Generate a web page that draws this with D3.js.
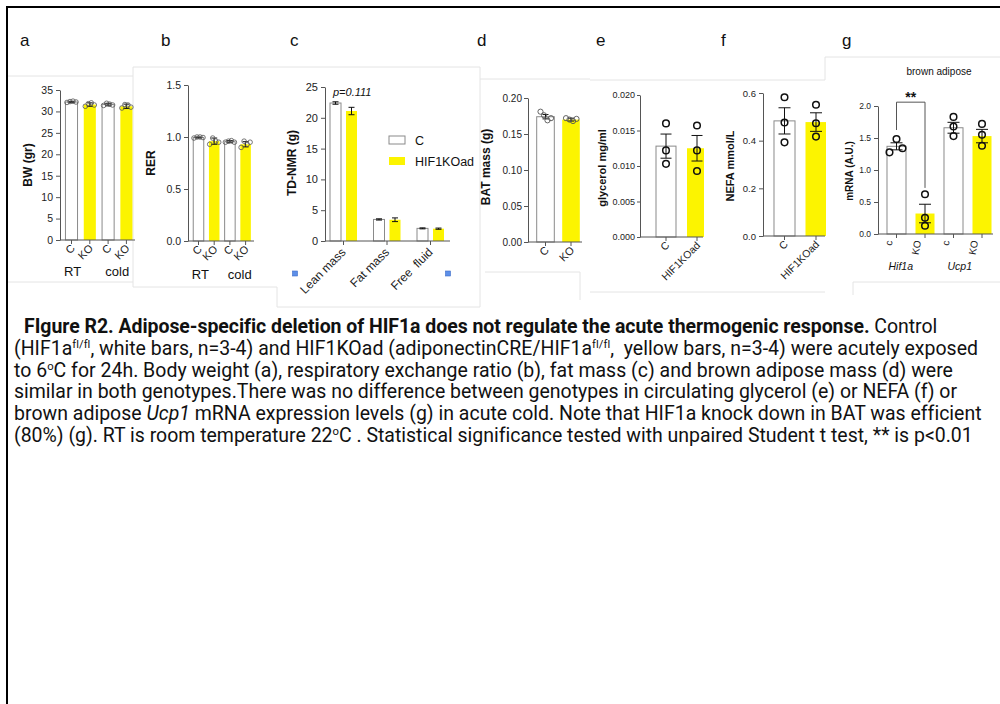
<!DOCTYPE html>
<html>
<head>
<meta charset="utf-8">
<script src="https://cdn.jsdelivr.net/npm/d3@7"></script>
<style>
  body { margin: 0; background: #fff; }
  text { white-space: pre; }
</style>
</head>
<body>
<script>
'use strict';

// ---- data ----
// a: body weight
var bwLabels = ["C", "KO", "C", "KO"];
var bwGroups = ["RT", "cold"];
var bwMeans = [32.2, 31.6, 31.6, 31.2];
var bwErr = [0.15, 0.4, 0.3, 0.5];
var bwPoints = [[32.1, 32.3, 32.4, 32.2], [31.2, 31.8, 32.0, 31.5], [31.4, 31.9, 31.7, 31.5], [30.8, 31.6, 31.5, 31.0]];
var bwTicks = [0, 5, 10, 15, 20, 25, 30, 35];

// b: respiratory exchange ratio
var rerLabels = ["C", "KO", "C", "KO"];
var rerGroups = ["RT", "cold"];
var rerMeans = [0.995, 0.96, 0.955, 0.93];
var rerErr = [0.005, 0.03, 0.01, 0.025];
var rerPoints = [[0.99, 1.0, 1.0, 0.995], [0.93, 0.99, 0.96, 0.95], [0.95, 0.96, 0.965, 0.95], [0.9, 0.96, 0.93, 0.95]];
var rerTicks = [0, 0.5, 1.0, 1.5];

// c: TD-NMR body composition
var nmrCategories = ["Lean mass", "Fat mass", "Free  fluid"];
var nmrSeries = ["C", "HIF1KOad"];
var nmrMeans = [22.4, 21.1, 3.5, 3.45, 2.05, 2.0];
var nmrErr = [0.2, 0.6, 0.1, 0.3, 0.08, 0.1];
var nmrTicks = [0, 5, 10, 15, 20, 25];

// d: BAT mass
var batLabels = ["C", "KO"];
var batMeans = [0.174, 0.170];
var batErr = [0.003, 0.002];
var batPoints = [[0.181, 0.176, 0.169, 0.172], [0.172, 0.170, 0.168, 0.171]];
var batTicks = [0, 0.05, 0.10, 0.15, 0.20];

// e: glycerol
var glyLabels = ["C", "HIF1KOad"];
var glyMeans = [0.0128, 0.0125];
var glyErr = [0.0017, 0.0018];
var glyPoints = [[0.0160, 0.0122, 0.0103], [0.0157, 0.0122, 0.0093]];
var glyTicks = [0, 0.005, 0.010, 0.015, 0.020];

// f: NEFA
var nefaLabels = ["C", "HIF1KOad"];
var nefaMeans = [0.483, 0.478];
var nefaErr = [0.055, 0.039];
var nefaPoints = [[0.582, 0.476, 0.393], [0.551, 0.473, 0.417]];
var nefaTicks = [0, 0.2, 0.4, 0.6];

// g: brown adipose mRNA
var mrnaLabels = ["c", "KO", "c", "KO"];
var mrnaGroups = ["Hif1a", "Ucp1"];
var mrnaMeans = [1.37, 0.32, 1.66, 1.53];
var mrnaErr = [0.055, 0.145, 0.085, 0.105];
var mrnaPoints = [[1.276, 1.484, 1.339], [0.62, 0.255, 0.13], [1.83, 1.68, 1.53], [1.72, 1.55, 1.38]];
var mrnaTicks = [0, 0.5, 1.0, 1.5, 2.0];

var panelLetters = ["a", "b", "c", "d", "e", "f", "g"];

var captionLines = [
  [["FIgure R2. Adipose-specific deletion of HIF1a does not regulate the acute thermogenic response.", "b"], [" Control", ""]],
  [["(HIF1a", ""], ["fl/fl", "sup"], [", white bars, n=3-4) and HIF1KOad (adiponectinCRE/HIF1a", ""], ["fl/fl", "sup"], [",  yellow bars, n=3-4) were acutely exposed", ""]],
  [["to 6", ""], ["o", "sup"], ["C for 24h. Body weight (a), respiratory exchange ratio (b), fat mass (c) and brown adipose mass (d) were", ""]],
  [["similar in both genotypes.There was no difference between genotypes in circulating glycerol (e) or NEFA (f) or", ""]],
  [["brown adipose ", ""], ["Ucp1", "i"], [" mRNA expression levels (g) in acute cold. Note that HIF1a knock down in BAT was efficient", ""]],
  [["(80%) (g). RT is room temperature 22", ""], ["o", "sup"], ["C . Statistical significance tested with unpaired Student t test, ** is p<0.01", ""]]
];

// ---- styling ----
var FONT = "'Liberation Sans', Arial, Helvetica, sans-serif";
var WHITE = "#ffffff", YELLOW = "#fcf400";
var AX = "#555";

var svg = d3.select("body").append("svg")
  .attr("width", 1000)
  .attr("height", 704);

svg.append("rect").attr("width", 1000).attr("height", 704).attr("fill", "#fff");

// faint edges of the pasted sub-images
var tileEdges = [
  [7, 76, 133, 76], [7, 282, 133, 282], [133, 67, 133, 287], [133, 67, 480, 67],
  [133, 287, 277, 287], [277, 287, 277, 307], [277, 307, 480, 307], [480, 67, 480, 307],
  [480, 79, 590, 79], [485, 272, 580, 272], [580, 272, 580, 300],
  [590, 80, 825, 80], [590, 292, 825, 292], [825, 57, 1000, 57], [825, 57, 825, 80],
  [853, 282, 1000, 282], [853, 282, 853, 295]
];
svg.append("g").selectAll("line").data(tileEdges).join("line")
  .attr("x1", function(d){ return d[0]; }).attr("y1", function(d){ return d[1]; })
  .attr("x2", function(d){ return d[2]; }).attr("y2", function(d){ return d[3]; })
  .attr("stroke", "#e4e4e4").attr("stroke-width", 1);

// black frame (runs off the right and bottom)
svg.append("path").attr("d", "M7,704V7H1000")
  .attr("fill", "none").attr("stroke", "#000").attr("stroke-width", 2);

// panel letters
var letterX = [20, 161, 290, 477, 596, 721, 842];
svg.append("g").selectAll("text").data(panelLetters).join("text")
  .attr("x", function(d, i){ return letterX[i]; })
  .attr("y", 46)
  .attr("font-family", FONT).attr("font-size", 17).attr("fill", "#111")
  .text(function(d){ return d; });

function drawPanel(o) {
  var y = d3.scaleLinear().domain(o.yDomain).range(o.yRange);
  var g = svg.append("g");
  var plot = g.append("g");
  if (o.clipX) {
    svg.append("clipPath").attr("id", "clip" + o.id)
      .append("rect").attr("x", 0).attr("y", 0).attr("width", o.clipX).attr("height", 704);
    plot.attr("clip-path", "url(#clip" + o.id + ")");
  }
  var xc = o.xc, bw = o.bw;

  plot.selectAll(".bar").data(o.means).join("rect")
    .attr("x", function(d, i){ return xc(i) - bw / 2; })
    .attr("y", function(d){ return y(d); })
    .attr("width", bw)
    .attr("height", function(d){ return y(0) - y(d); })
    .attr("fill", function(d, i){ return o.fills[i]; })
    .attr("stroke", function(d, i){ return o.fills[i] === WHITE ? "#8a8a8a" : "none"; })
    .attr("stroke-width", 1);

  // error bars
  var eb = plot.append("g").attr("stroke", "#111").attr("stroke-width", 1);
  o.means.forEach(function(m, i) {
    var x0 = xc(i), lo = y(m - o.err[i]), hi = y(m + o.err[i]);
    eb.append("line").attr("x1", x0).attr("x2", x0).attr("y1", lo).attr("y2", hi);
    eb.append("line").attr("x1", x0 - o.cap).attr("x2", x0 + o.cap).attr("y1", hi).attr("y2", hi);
    eb.append("line").attr("x1", x0 - o.cap).attr("x2", x0 + o.cap).attr("y1", lo).attr("y2", lo);
  });

  if (o.points) {
    var pts = [];
    o.points.forEach(function(arr, i) {
      arr.forEach(function(v, j) { pts.push({ i: i, v: v, dx: o.jitter(i, j) }); });
    });
    plot.selectAll(".pt").data(pts).join("circle")
      .attr("cx", function(d){ return xc(d.i) + d.dx; })
      .attr("cy", function(d){ return y(d.v); })
      .attr("r", o.r)
      .attr("fill", "none")
      .attr("stroke", o.ptStroke)
      .attr("stroke-width", o.ptWidth);
  }

  // y axis
  var ya = g.append("g").attr("transform", "translate(" + o.axisX + ",0)")
    .call(d3.axisLeft(y).tickValues(o.ticks).tickFormat(d3.format(o.fmt))
      .tickSize(o.tick || 4).tickPadding(o.tickPad || 3).tickSizeOuter(0));
  ya.select(".domain").attr("stroke", AX);
  ya.selectAll(".tick line").attr("stroke", AX);
  ya.selectAll("text").attr("font-family", FONT).attr("font-size", o.fs).attr("fill", "#222");

  // x axis
  g.append("line").attr("x1", o.axisX).attr("x2", o.xEnd)
    .attr("y1", y(0)).attr("y2", y(0)).attr("stroke", AX);
  var xa = g.append("g").attr("transform", "translate(0," + y(0) + ")")
    .call(d3.axisBottom(o.xTick).tickFormat(o.tickLabel).tickSize(4));
  xa.select(".domain").remove();
  xa.selectAll(".tick line").attr("stroke", AX);
  xa.selectAll("text")
    .attr("x", 0).attr("y", 0).attr("dy", 0)
    .attr("text-anchor", "end")
    .attr("transform", "translate(" + o.lblDx + "," + o.lblDy + ") rotate(" + (o.rot || -45) + ")")
    .attr("font-family", FONT).attr("font-size", o.xfs).attr("fill", "#222");

  // y title
  g.append("text")
    .attr("transform", "translate(" + o.yTitlePos[0] + "," + o.yTitlePos[1] + ") rotate(-90)")
    .attr("text-anchor", "middle")
    .attr("font-family", FONT).attr("font-size", o.titleFs).attr("font-weight", "bold").attr("fill", "#111")
    .text(o.yTitle);

  // group labels under pairs of bars
  if (o.groups) {
    g.selectAll(".grp").data(o.groups).join("text")
      .attr("x", function(d, k){ return (xc(2 * k) + xc(2 * k + 1)) / 2 + o.groupDx[k]; })
      .attr("y", o.groupY)
      .attr("text-anchor", "middle")
      .attr("font-family", FONT).attr("font-size", o.groupFs)
      .attr("font-style", o.groupItalic ? "italic" : "normal")
      .attr("fill", "#111")
      .text(function(d){ return d; });
  }
  return { y: y, xc: xc, g: g };
}

function bandPanel(n, range, pad) {
  var band = d3.scaleBand().domain(d3.range(n)).range(range).paddingInner(pad).paddingOuter(pad / 2);
  return {
    band: band,
    bw: band.bandwidth(),
    xc: function(i){ return band(i) + band.bandwidth() / 2; }
  };
}

var fills4 = [WHITE, YELLOW, WHITE, YELLOW], fills2 = [WHITE, YELLOW];
var spread4 = [-4.5, -1.5, 1.5, 4.5];

// a
var bA = bandPanel(4, [62.35, 135.55], 0.34);
drawPanel({
  id: "a", yDomain: [0, 35], yRange: [240, 90], ticks: bwTicks, fmt: "d", fs: 10.5,
  means: bwMeans, err: bwErr, points: bwPoints, fills: fills4,
  xc: bA.xc, bw: bA.bw, xTick: bA.band, tickLabel: function(i){ return bwLabels[i]; },
  axisX: 60, xEnd: 135, cap: 3, r: 2.3, ptStroke: "#555", ptWidth: 0.8,
  jitter: function(i, j){ return spread4[j]; },
  lblDx: 4, lblDy: 9, xfs: 11,
  yTitle: "BW (gr)", yTitlePos: [32, 165], titleFs: 12,
  groups: bwGroups, groupDx: [-8, 0], groupY: 276, groupFs: 13
});

// b
var bB = bandPanel(4, [190.65, 253.45], 0.33);
drawPanel({
  id: "b", yDomain: [0, 1.5], yRange: [241, 85], ticks: rerTicks, fmt: ".1f", fs: 10.5,
  means: rerMeans, err: rerErr, points: rerPoints, fills: fills4,
  xc: bB.xc, bw: bB.bw, xTick: bB.band, tickLabel: function(i){ return rerLabels[i]; },
  axisX: 188, xEnd: 254, cap: 3, r: 2.3, ptStroke: "#555", ptWidth: 0.8,
  jitter: function(i, j){ return spread4[j]; },
  lblDx: 4, lblDy: 9, xfs: 11,
  yTitle: "RER", yTitlePos: [155, 163], titleFs: 12,
  groups: rerGroups, groupDx: [-6, 2], groupY: 279, groupFs: 13
});

// c
var grpC = d3.scaleBand().domain(nmrCategories).range([321.75, 452.25]);
var subC = d3.scaleBand().domain(nmrSeries).range([5.75, 37.75]).paddingInner(0.3125).paddingOuter(0.15625);
var pC = drawPanel({
  id: "c", yDomain: [0, 25], yRange: [241, 87], ticks: nmrTicks, fmt: "d", fs: 11,
  means: nmrMeans, err: nmrErr, points: null, fills: [WHITE, YELLOW, WHITE, YELLOW, WHITE, YELLOW],
  xc: function(i){ return grpC(nmrCategories[Math.floor(i / 2)]) + subC(nmrSeries[i % 2]) + subC.bandwidth() / 2; },
  bw: subC.bandwidth(), xTick: grpC, tickLabel: function(d){ return d; },
  axisX: 325, xEnd: 450, cap: 3,
  lblDx: 3, lblDy: 12, xfs: 12,
  yTitle: "TD-NMR (g)", yTitlePos: [296, 163], titleFs: 12
});
pC.g.append("text").attr("x", 333).attr("y", 96)
  .attr("font-family", FONT).attr("font-size", 11).attr("font-style", "italic").attr("fill", "#111")
  .text("p=0.111");
var legC = pC.g.selectAll(".leg").data(nmrSeries).join("g")
  .attr("transform", function(d, i){ return "translate(389," + (136 + i * 21) + ")"; });
legC.append("rect").attr("width", 16).attr("height", 8)
  .attr("fill", function(d, i){ return fills2[i]; })
  .attr("stroke", function(d, i){ return i === 0 ? "#8a8a8a" : "none"; });
legC.append("text").attr("x", 26).attr("y", 9)
  .attr("font-family", FONT).attr("font-size", 12.5).attr("fill", "#111")
  .text(function(d){ return d; });
pC.g.selectAll(".sq").data([295, 448]).join("rect")
  .attr("x", function(d){ return d - 2.5; }).attr("y", 271).attr("width", 5).attr("height", 5)
  .attr("fill", "#5d8fe8").attr("stroke", "#3c6cc9").attr("stroke-width", 0.6);

// d
var bD = bandPanel(2, [532.75, 583.75], 0.31);
drawPanel({
  id: "d", yDomain: [0, 0.2], yRange: [242, 98], ticks: batTicks, fmt: ".2f", fs: 10,
  means: batMeans, err: batErr, points: batPoints, fills: fills2,
  xc: bD.xc, bw: bD.bw, xTick: bD.band, tickLabel: function(i){ return batLabels[i]; },
  axisX: 528, xEnd: 582, cap: 3, r: 2.6, ptStroke: "#555", ptWidth: 0.9,
  jitter: function(i, j){ return [-5, -1.5, 2, 5.5][j]; },
  tick: 4, tickPad: 2,
  lblDx: 4, lblDy: 9, xfs: 11,
  yTitle: "BAT mass (g)", yTitlePos: [490, 167], titleFs: 12
});

// e
var bE = bandPanel(2, [650.5, 712.5], 0.355);
drawPanel({
  id: "e", yDomain: [0, 0.02], yRange: [237, 95], ticks: glyTicks, fmt: ".3f", fs: 9,
  means: glyMeans, err: glyErr, points: glyPoints, fills: fills2, clipX: 704,
  xc: bE.xc, bw: bE.bw, xTick: bE.band, tickLabel: function(i){ return glyLabels[i]; },
  axisX: 640, xEnd: 703, cap: 5.5, r: 3.3, ptStroke: "#111", ptWidth: 1.5,
  jitter: function(){ return 0; },
  tick: 3, tickPad: 2,
  lblDx: 4, lblDy: 9, xfs: 10.5,
  yTitle: "glycerol mg/ml", yTitlePos: [606, 168], titleFs: 11
});

// f
var bF = bandPanel(2, [768.75, 831.75], 0.333);
drawPanel({
  id: "f", yDomain: [0, 0.6], yRange: [236, 93], ticks: nefaTicks, fmt: ".1f", fs: 9.5,
  means: nefaMeans, err: nefaErr, points: nefaPoints, fills: fills2, clipX: 826,
  xc: bF.xc, bw: bF.bw, xTick: bF.band, tickLabel: function(i){ return nefaLabels[i]; },
  axisX: 763, xEnd: 825, cap: 6, r: 3.3, ptStroke: "#111", ptWidth: 1.5,
  jitter: function(){ return 0; },
  tick: 4, tickPad: 3,
  lblDx: 4, lblDy: 9, xfs: 10.5,
  yTitle: "NEFA mmol/L", yTitlePos: [734, 166], titleFs: 11
});

// g
var bG = bandPanel(4, [882.25, 996.25], 0.333);
var pG = drawPanel({
  id: "g", yDomain: [0, 2], yRange: [234, 106], ticks: mrnaTicks, fmt: ".1f", fs: 8.5,
  means: mrnaMeans, err: mrnaErr, points: mrnaPoints, fills: fills4,
  xc: bG.xc, bw: bG.bw, xTick: bG.band, tickLabel: function(i){ return mrnaLabels[i]; },
  axisX: 878, xEnd: 993, cap: 6, r: 3.3, ptStroke: "#111", ptWidth: 1.5,
  jitter: function(i, j){ return i === 0 ? [-7, 0, 6][j] : 0; },
  tick: 4, tickPad: 3,
  lblDx: -4, lblDy: 7, rot: -80, xfs: 10,
  yTitle: "mRNA (A.U.)", yTitlePos: [853, 171], titleFs: 10,
  groups: mrnaGroups, groupDx: [-10, -8], groupY: 270, groupFs: 10.5, groupItalic: true
});
pG.g.append("path")
  .attr("d", "M" + pG.xc(0) + "," + pG.y(1.625) + "V" + pG.y(2.06) + "H" + pG.xc(1) + "V" + pG.y(0.72))
  .attr("fill", "none").attr("stroke", "#555").attr("stroke-width", 1);
pG.g.append("text").attr("x", (pG.xc(0) + pG.xc(1)) / 2).attr("y", 102)
  .attr("text-anchor", "middle").attr("font-family", FONT).attr("font-size", 14).attr("font-weight", "bold")
  .attr("fill", "#111").text("**");
pG.g.append("text").attr("x", 939).attr("y", 75)
  .attr("text-anchor", "middle").attr("font-family", FONT).attr("font-size", 10).attr("fill", "#111")
  .text("brown adipose");

// ---- caption ----
var capStart = [24, 14, 14, 14, 14, 14];
var capEnd = [937, 977, 953, 957, 980, 972];
var capBase = 333, capStep = 21.8;
var cap = svg.append("g").attr("font-family", "Roboto, 'Noto Sans', sans-serif").attr("fill", "#111");

function buildLine(segs, li, fs) {
  var t = cap.append("text").attr("x", capStart[li]).attr("y", capBase + li * capStep).attr("font-size", fs);
  var raised = false;
  segs.forEach(function(s) {
    var ts = t.append("tspan").text(s[0]);
    if (s[1] === "b") ts.attr("font-weight", "bold");
    if (s[1] === "i") ts.attr("font-style", "italic");
    if (s[1] === "sup") { ts.attr("font-size", fs * 0.58).attr("dy", -7); raised = true; }
    else if (raised) { ts.attr("dy", 7); raised = false; }
  });
  return t;
}

// pick one font size from the plain lines, then trim each line's spacing
var probe = buildLine(captionLines[3], 3, 17.5);
var capFs = 17.5 * (capEnd[3] - capStart[3]) / probe.node().getComputedTextLength();
probe.remove();
captionLines.forEach(function(segs, li) {
  var t = buildLine(segs, li, capFs);
  var w = t.node().getComputedTextLength();
  var n = t.text().length;
  t.attr("letter-spacing", ((capEnd[li] - capStart[li] - w) / n).toFixed(3) + "px");
});
</script>
</body>
</html>
